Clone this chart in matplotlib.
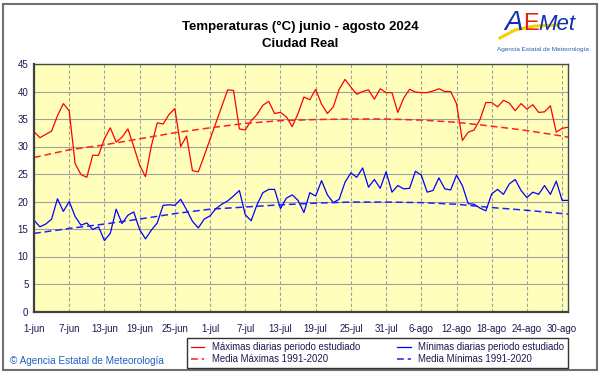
import numpy as np
import matplotlib
matplotlib.use("Agg")
import matplotlib.pyplot as plt
from matplotlib.patches import Rectangle

plt.rcParams["font.family"] = ["Liberation Sans", "DejaVu Sans"]

# Daily values, 1-jun .. 31-ago 2024
tmax = [32.7, 31.6, 32.2, 32.8, 35.6, 37.8, 36.5, 26.9, 24.9, 24.4,
        28.4, 28.4, 31.4, 33.4, 30.8, 31.7, 33.2, 30.0, 26.6, 24.5,
        30.1, 34.3, 34.1, 35.8, 36.9, 30.0, 31.9, 25.6, 25.4, 28.3,
        31.3, 34.3, 37.3, 40.3, 40.2, 33.2, 33.0, 34.7, 35.8, 37.5,
        38.2, 36.0, 36.2, 35.4, 33.6, 36.0, 39.0, 38.5, 40.4, 37.7,
        36.0, 37.2, 40.4, 42.2, 40.8, 39.5, 40.0, 40.3, 38.6, 40.5,
        39.8, 39.8, 36.2, 38.8, 40.4, 39.9, 39.8, 39.8, 40.1, 40.5,
        40.0, 40.0, 37.8, 31.1, 32.6, 33.0, 34.9, 38.0, 38.0, 37.2,
        38.4, 37.9, 36.5, 37.8, 36.8, 37.6, 36.2, 36.3, 37.4, 32.6,
        33.3, 33.5]

tmin = [16.6, 15.4, 15.9, 16.8, 20.5, 18.2, 20.0, 17.3, 15.7, 16.1,
        14.9, 15.4, 12.9, 14.2, 18.6, 16.0, 17.5, 18.1, 14.9, 13.2,
        14.8, 16.1, 19.3, 19.4, 19.3, 20.4, 18.5, 16.4, 15.2, 16.8,
        17.4, 18.7, 19.5, 20.1, 21.0, 22.0, 17.6, 16.5, 19.4, 21.6,
        22.2, 22.2, 18.7, 20.6, 21.2, 20.2, 18.0, 21.6, 21.0, 23.8,
        21.2, 19.8, 20.4, 23.5, 25.2, 24.4, 26.1, 22.6, 24.0, 22.4,
        25.4, 21.7, 22.9, 22.3, 22.4, 25.5, 24.8, 21.7, 22.0, 24.3,
        22.3, 22.1, 24.8, 22.9, 19.6, 19.5, 18.8, 18.3, 21.4, 22.2,
        21.3, 23.2, 24.0, 22.0, 20.7, 21.7, 21.3, 22.9, 21.3, 23.7,
        20.2, 20.2]

# 1991-2020 normals, read every 6 days
norm_days = [0, 6, 12, 18, 24, 30, 36, 42, 48, 54, 60, 66, 72, 78, 84, 90, 91]
norm_max = [28.0, 29.4, 30.3, 31.4, 32.5, 33.4, 34.2, 34.7, 34.9, 35.0,
            35.0, 34.8, 34.4, 33.7, 32.9, 31.9, 31.7]
norm_min = [14.2, 15.1, 15.9, 16.8, 17.8, 18.6, 19.0, 19.4, 19.7, 19.9,
            19.9, 19.8, 19.5, 18.9, 18.4, 17.8, 17.7]

tick_labels = ["1-jun", "7-jun", "13-jun", "19-jun", "25-jun", "1-jul",
               "7-jul", "13-jul", "19-jul", "25-jul", "31-jul", "6-ago",
               "12-ago", "18-ago", "24-ago", "30-ago"]

navy = "#1a1a50"
days = np.arange(len(tmax))

fig = plt.figure(figsize=(6.01, 3.74), dpi=100)
ax = fig.add_axes([34 / 601, 1 - 311.5 / 374, 534 / 601, 247.5 / 374])
ax.set_facecolor("#ffffbb")

l1, = ax.plot(days, tmax, color="#ff0000", lw=0.9)
l2, = ax.plot(norm_days, norm_max, color="#ff2020", lw=1.1, dashes=(4.5, 2.5))
l3, = ax.plot(days, tmin, color="#0000ff", lw=0.9)
l4, = ax.plot(norm_days, norm_min, color="#2020ff", lw=1.1, dashes=(4.5, 2.5))

ax.set_xlim(0, 91)
ax.set_ylim(0, 45)
ax.set_yticks(np.arange(0, 46, 5))
ax.set_xticks(np.arange(0, 91, 6))
ax.set_xticklabels(tick_labels)
ax.tick_params(length=0, labelsize=7, colors=navy, pad=9)
ax.tick_params(axis="y", pad=4)

ax.grid(axis="y", color="#a0a0a0", lw=0.8)
ax.grid(axis="x", color="#a0a0a0", lw=0.8, ls=(0, (3, 2)))
ax.set_axisbelow(True)
for side in ["left", "bottom"]:
    ax.spines[side].set_color("#404040")
    ax.spines[side].set_linewidth(1.6)
for side in ["top", "right"]:
    ax.spines[side].set_color("#405040")
    ax.spines[side].set_linewidth(1.0)

# Titles
fig.text(300 / 601, 1 - 27 / 374, "Temperaturas (°C) junio - agosto 2024",
         ha="center", va="center", fontsize=9.5, fontweight="bold")
fig.text(300 / 601, 1 - 44 / 374, "Ciudad Real",
         ha="center", va="center", fontsize=9.5, fontweight="bold")

# Logo
fig.lines.append(plt.Line2D([500 / 601, 515 / 601, 535 / 601, 558 / 601],
                            [1 - 38 / 374, 1 - 30 / 374, 1 - 26 / 374, 1 - 25 / 374],
                            transform=fig.transFigure, color="#f5d000", lw=2.2))
fig.text(523 / 601, 1 - 23 / 374, "A", color="#1030b0", fontsize=20,
         style="italic", ha="right", va="center")
fig.text(523 / 601, 1 - 24 / 374, "E", color="#e02010", fontsize=17,
         ha="left", va="center")
fig.text(538 / 601, 1 - 25 / 374, "Met", color="#1030b0", fontsize=16,
         style="italic", ha="left", va="center")
fig.text(543 / 601, 1 - 49 / 374, "Agencia Estatal de Meteorología",
         color="#2060b0", fontsize=4.6, ha="center", va="center")

# Footer
fig.text(10 / 601, 1 - 361 / 374, "© Agencia Estatal de Meteorología",
         color="#2060c0", fontsize=7.2, ha="left", va="center")

leg = fig.legend([l1, l2, l3, l4],
                 ["Máximas diarias periodo estudiado", "Media Máximas 1991-2020",
                  "Mínimas diarias periodo estudiado", "Media Mínimas 1991-2020"],
                 loc="lower left", bbox_to_anchor=(187 / 601, 6 / 374, 381 / 601, 31 / 374),
                 mode="expand", ncol=2, borderaxespad=0, fontsize=6.9,
                 fancybox=False, handlelength=1.4, handletextpad=0.8,
                 labelspacing=0.2, borderpad=0.4, columnspacing=1.0)
leg.get_frame().set_edgecolor("black")
leg.get_frame().set_linewidth(1.0)
for t in leg.get_texts():
    t.set_color(navy)

# Outer frame
fig.patches.append(Rectangle((3 / 601, 4 / 374), 594 / 601, 366 / 374,
                             transform=fig.transFigure, fill=False,
                             edgecolor="#707070", lw=1.5))

fig.savefig("out.png", dpi=100)
